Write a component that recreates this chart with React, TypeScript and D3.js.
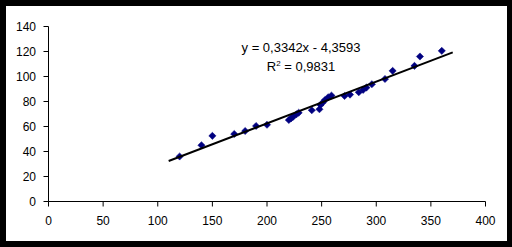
import React from "react";
import * as d3 from "d3";

const xValues = [120, 140, 150, 170, 180, 190, 200, 220, 222, 224, 227, 229, 241, 248, 249, 251, 253, 256, 259, 271, 276, 284, 288, 291, 296, 308, 315, 335, 340, 360];
const yValues = [36, 45, 52.5, 54, 56.4, 60.4, 61.4, 65.2, 66.5, 67.8, 69.8, 71, 73, 73.8, 77.2, 79.1, 81.2, 83.4, 84.7, 84.4, 85.5, 87.4, 89.3, 91.1, 93.8, 98, 104.5, 108.5, 116, 120.5];
const xTicks = [0, 50, 100, 150, 200, 250, 300, 350, 400];
const yTicks = [0, 20, 40, 60, 80, 100, 120, 140];
const slope = 0.3342;
const intercept = -4.3593;
const trendRange = [110, 370];
const equationText = "y = 0,3342x - 4,3593";
const r2Value = "0,9831";

export default function App() {
  const W = 512, H = 247;
  const x = d3.scaleLinear().domain([0, 400]).range([48.5, 485.5]);
  const y = d3.scaleLinear().domain([0, 140]).range([201.5, 26.5]);
  const font = "'Liberation Sans', Arial, sans-serif";
  const sym = d3.symbol().type(d3.symbolSquare).size(26)();
  const line = d3.line<number>().x((d) => x(d)).y((d) => y(slope * d + intercept));
  return (
    <svg width={W} height={H} style={{ position: "absolute", left: 0, top: 0 }}>
      <rect x={0} y={0} width={W} height={H} fill="#000" />
      <rect x={6} y={6} width={501} height={235} fill="#fff" />
      {/* axes */}
      <line x1={x(0)} x2={x(0)} y1={y(0)} y2={y(140)} stroke="#000" strokeWidth={1} />
      <line x1={x(0)} x2={x(400)} y1={y(0)} y2={y(0)} stroke="#000" strokeWidth={1} />
      {yTicks.map((t) => (
        <g key={"y" + t}>
          <line x1={x(0) - 5} x2={x(0)} y1={y(t)} y2={y(t)} stroke="#000" />
          <text x={36} y={y(t)} dy="0.35em" textAnchor="end" fontFamily={font} fontSize={12} fill="#000">{t}</text>
        </g>
      ))}
      {xTicks.map((t) => (
        <g key={"x" + t}>
          <line x1={x(t)} x2={x(t)} y1={y(0)} y2={y(0) + 5} stroke="#000" />
          <text x={x(t)} y={221} dy="0.35em" textAnchor="middle" fontFamily={font} fontSize={12} fill="#000">{t}</text>
        </g>
      ))}
      {xValues.map((xv, i) => (
        <path key={i} d={sym} transform={`translate(${x(xv)},${y(yValues[i])}) rotate(45)`} fill="#000080" stroke="#000080" strokeWidth={0.5} />
      ))}
      <path d={line(trendRange) || ""} stroke="#000" strokeWidth={2} fill="none" />
      <text x={301} y={52} textAnchor="middle" fontFamily={font} fontSize={13} fill="#000">{equationText}</text>
      <text x={301} y={71} textAnchor="middle" fontFamily={font} fontSize={13} fill="#000">
        R<tspan dy={-5} fontSize={8}>2</tspan><tspan dy={5}>{" = " + r2Value}</tspan>
      </text>
    </svg>
  );
}
